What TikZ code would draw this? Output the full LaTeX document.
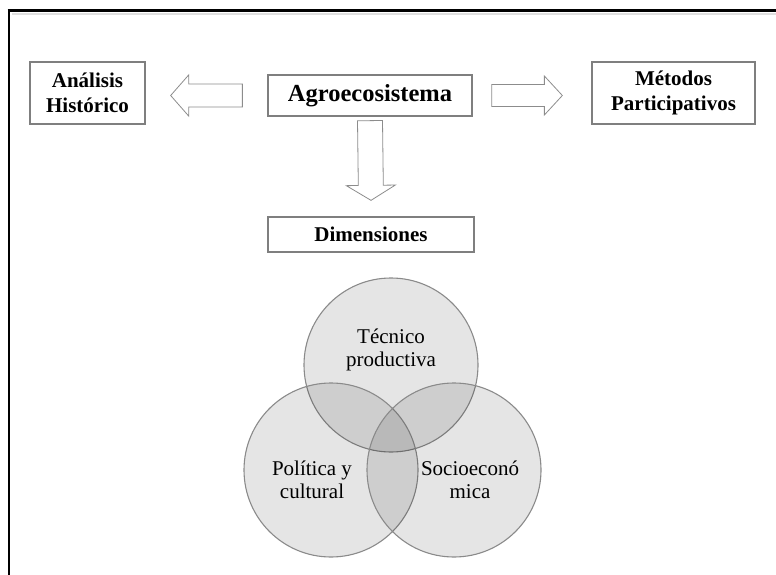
\documentclass[tikz,border=0pt]{standalone}
\usepackage{fontspec}
\setmainfont{Liberation Serif}
\usetikzlibrary{calc}

\definecolor{boxline}{HTML}{7F7F7F}
\definecolor{arrowline}{HTML}{8C8C8C}
\definecolor{ringline}{HTML}{8A8A8A}

\tikzset{
  titlebox/.style={draw=boxline, line width=1.3pt, fill=white, align=center,
    inner sep=2pt, font=\bfseries\fontsize{21}{25}\selectfont},
  % hollow block arrow from tail to tip: #1 half shaft, #2 half head, #3 head length
  blockarrow/.style n args={3}{draw=arrowline, line width=0.8pt, fill=white,
    line join=miter,
    to path={
      ($(\tikztostart)!#1!90:(\tikztotarget)$)
      -- ($(\tikztotarget)!#3!(\tikztostart)!#1!-90:(\tikztostart)$)
      -- ($(\tikztotarget)!#3!(\tikztostart)!#2!-90:(\tikztostart)$)
      -- (\tikztotarget)
      -- ($(\tikztotarget)!#3!(\tikztostart)!#2!90:(\tikztostart)$)
      -- ($(\tikztotarget)!#3!(\tikztostart)!#1!90:(\tikztostart)$)
      -- ($(\tikztostart)!#1!-90:(\tikztotarget)$)
      -- cycle}},
  ring/.style={circle, draw=ringline, line width=1.1pt, fill=black,
    fill opacity=0.1, draw opacity=1, minimum size=174pt, inner sep=0pt},
  ringlabel/.style={align=center, font=\fontsize{21}{23}\selectfont}
}

\begin{document}
\begin{tikzpicture}[x=1pt, y=-1pt]
  \useasboundingbox (0,0) rectangle (776,575);

  % page frame (top and left rules)
  \draw[gray!25, line width=2pt] (12,14.5) -- (776,14.5);
  \draw[black, line width=3pt] (7.5,11) -- (776,11);
  \draw[black, line width=2.5pt] (9,9.5) -- (9,575);

  % title boxes
  \node[titlebox, minimum width=115pt, minimum height=62pt] (hist) at (87.5,93)
    {Análisis\\Histórico};
  \node[titlebox, minimum width=204pt, minimum height=41pt,
        font=\bfseries\fontsize{24.5}{29}\selectfont] (agro) at (370,95.5)
    {Agroecosistema};
  \node[titlebox, minimum width=163pt, minimum height=62pt] (met) at (673.5,93)
    {Métodos\\Participativos};
  \node[titlebox, minimum width=206pt, minimum height=35pt] (dim) at (371,234.5)
    {Dimensiones};

  % block arrows between the boxes
  \coordinate (lTail) at ($(agro.west)+(-25,0)$);
  \coordinate (lTip)  at ($(hist.east |- agro.west)+(25,0)$);
  \coordinate (rTail) at ($(agro.east)+(19,0)$);
  \coordinate (rTip)  at ($(met.west |- agro.east)+(-29,0)$);
  \coordinate (dTail) at ($(agro.south)+(0,4)$);
  \coordinate (dTip)  at ($(dim.north)+(0,-16)$);
  \draw[blockarrow={11.5pt}{20.5pt}{18pt}] (lTail) to (lTip);
  \draw[blockarrow={11pt}{19.5pt}{18pt}] (rTail) to (rTip);
  \draw[blockarrow={12.5pt}{24.5pt}{15pt}] (dTail) to (dTip);

  % three overlapping dimensions
  \node[ring] (tec) at (391,365) {};
  \node[ring] (pol) at (331,470) {};
  \node[ring] (soc) at (454,470) {};

  \node[ringlabel] (tecL) at ($(tec.center)+(0,-15)$) {Técnico\\productiva};
  \node[ringlabel] (polL) at ($(pol.center)+(-19,10)$) {Política y\\cultural};
  \node[ringlabel] (socL) at ($(soc.center)+(16,10)$) {Socioeconó\\mica};
\end{tikzpicture}
\end{document}
